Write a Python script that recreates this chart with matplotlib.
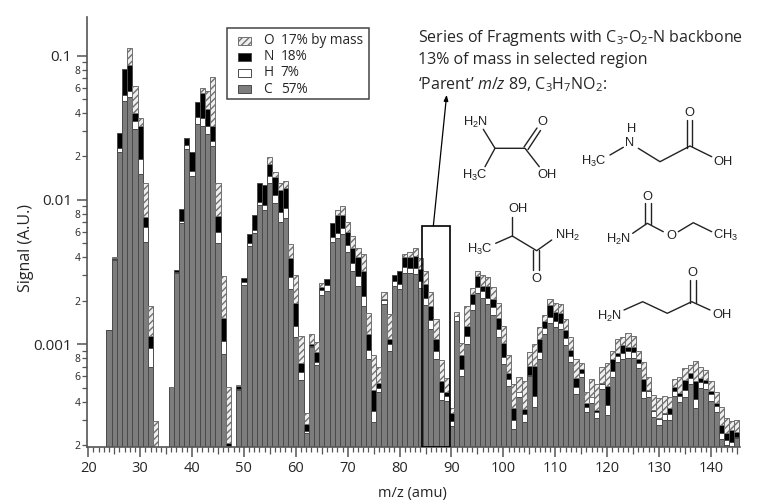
#!/usr/bin/env python3
"""Stacked elemental mass spectrum with candidate C3-O2-N fragment structures."""
import numpy as np
import matplotlib
matplotlib.use("Agg")
import matplotlib.pyplot as plt
from matplotlib.patches import Rectangle
from matplotlib.ticker import FixedLocator, FuncFormatter

plt.rcParams["font.family"] = ["Open Sans", "DejaVu Sans"]
plt.rcParams["mathtext.fontset"] = "custom"
plt.rcParams["mathtext.rm"] = "Open Sans"
plt.rcParams["mathtext.it"] = "Open Sans:italic"
plt.rcParams["mathtext.default"] = "regular"
plt.rcParams["hatch.linewidth"] = 1.0

# m/z of each bar (34, 35 and 48 have no bar)
mz = list(range(24, 34)) + list(range(36, 48)) + list(range(49, 146))

# signal of each element, in units of 0.001 A.U.
carbon = [1.25,3.84,21.6,48.5,51.7,31.2,15.1,5.14,0.699,0.194,0.506,3.12,6.96,22.6,14.7,33.5,32.6,28.7,23.7,5.01,
          0.857,0.194,0.482,2.58,4.8,5.88,9.19,8.53,13.1,9.49,7.07,7.47,2.42,1.12,0.563,0.242,0.953,0.715,2.2,2.35,
          5.14,5.45,5.81,4.36,3.22,2.55,1.84,0.795,0.289,0.467,1.9,0.894,2.55,2.41,3.13,3.1,3.07,2.44,1.86,1.28,
          0.787,0.411,0.403,0.272,1.46,0.6,1,1.73,2.28,2.1,1.89,1.6,1.13,0.727,0.514,0.259,0.429,0.289,0.606,0.369,
          0.787,1.18,1.4,1.32,1.28,0.989,0.75,0.452,0.591,0.341,0.39,0.307,0.488,0.324,0.596,0.758,0.787,0.807,0.807,0.682,
          0.427,0.433,0.315,0.275,0.299,0.299,0.438,0.4,0.433,0.531,0.36,0.496,0.49,0.407,0.341,0.22,0.201,0.198,0.225]
hydrogen = [0.00998,0.0308,1.31,4.62,4.93,3.91,4.17,1.33,0.248,0,0,0.025,0.191,1.49,1.15,3.95,4.26,3.9,2.09,0.961,
            0.203,0.0047,0.00776,0.113,0.235,0.318,0.543,0.708,1.45,1.34,1.14,1.38,0.496,0.227,0.0767,0.0102,0.0247,0.0423,0.182,0.212,
            0.427,0.425,0.553,0.515,0.421,0.426,0.329,0.118,0.0539,0.0284,0.125,0.106,0.212,0.2,0.282,0.258,0.325,0.315,0.23,0.197,
            0.116,0.0582,0.0334,0.0211,0.121,0.0741,0.142,0.165,0.205,0.237,0.21,0.197,0.141,0.0937,0.058,0.04,0.0401,0.0378,0.00681,0.0709,
            0.093,0.118,0.14,0.119,0.122,0.112,0.0794,0.0559,0.0389,0.0283,0.0392,0.0341,0.0405,0.056,0.0568,0.0721,0.0791,0.0911,0.0811,0.0637,
            0.0504,0.0413,0.0316,0.0276,0.03,0.03,0.0364,0.0381,0.0489,0.0505,0.0556,0.055,0.0467,0.0437,0.0325,0.0244,0.0167,0.0131,0.00362]
nitrogen = [0,0.0622,6.06,28.1,29.5,5.16,13,1.12,0.2,0,0,0.128,1.51,2.54,5.73,10.3,18.6,10.1,6.81,1.81,
            0.47,0.0081,0.024,0.177,0.75,1.68,3.32,3.47,3.26,3.53,3.51,3.21,1.07,0.578,0.106,0.0271,0.0269,0.127,0.105,0.285,
            1.33,1.99,1.51,1.15,0.985,1.07,1.06,0.26,0.139,0.0412,0.0326,0.0935,0.263,0.616,0.591,0.684,0.697,0.566,0.512,0.369,
            0.191,0.0874,0.0287,0.0431,0,0.173,0.192,0.338,0.505,0.207,0.444,0.267,0.258,0.205,0.0575,0.0648,0,0.0289,0.098,0.27,
            0.203,0.16,0.334,0.239,0.242,0.156,0.0834,0.0757,0.0447,0.0206,0.00413,0.00938,0.0085,0.134,0.138,0.0365,0.123,0.0547,0.0646,0.0416,
            0.0951,0.00763,0.00389,0.00486,0.00369,0.0348,0.0289,0.0193,0.0834,0.0483,0.144,0.0363,0.029,0.0243,0.0202,0.0319,0.0268,0.0434,0.019]
oxygen = [0,0.0952,0,0,27.4,21.7,4.39,5.59,0.695,0.0999,0.00243,0,0,0,0,0,4.03,14.5,38.3,5.4,
          1.45,0.301,0.00827,0,0,0,0,0,1.88,1.19,1.45,1.55,0.973,1.1,0.396,0.0535,0.168,0.158,0.164,0,
          0,0.654,1.22,0.976,1,0.625,0.968,0.467,0.357,0.156,0.232,0.528,0,0,0.217,0.294,0.579,0.619,0.631,0.45,
          0.397,0.218,0.116,0.0244,0.104,0.169,0.503,0.212,0.233,0.474,0.393,0.423,0.413,0.313,0.213,0.167,0.121,0.201,0.178,0.289,
          0.241,0.139,0.178,0.241,0.253,0.248,0.216,0.207,0.0713,0.0793,0.139,0.178,0.163,0.224,0.108,0.222,0.14,0.239,0.194,0.111,
          0.185,0.114,0.0948,0.115,0.106,0.0698,0.0686,0.133,0.116,0.0892,0.21,0.106,0.0979,0.0848,0.0756,0.0936,0.063,0.0408,0.0509]

legend_elements = ["O", "N", "H", "C"]
legend_shares = ["17% by mass", "18%", "7%", "57%"]
major_y = [1e-3, 1e-2, 1e-1]
major_y_labels = ["0.001", "0.01", "0.1"]
region_mz = (84.3, 89.65)   # selected region
region_top = 0.0066

GREY = "#7d7d7d"
EDGE = "#4a4a4a"
HATCH = "#707070"
TEXT = "#262626"
W, H = 757, 503

fig = plt.figure(figsize=(W / 100, H / 100), dpi=100)
ax = fig.add_axes([86.7 / W, 1 - 446.7 / H, (740 - 86.7) / W, (446.7 - 17) / H])
ax.set_yscale("log")
ax.set_xlim(19.7, 145.6)
ax.set_ylim(1.95e-4, 0.185)

# ---- Stacked bars ---------------------------------------------------------
x = np.array(mz)
base = np.zeros(len(mz))
for values, face, edge, hatch in [(carbon, GREY, EDGE, None), (hydrogen, "white", EDGE, None),
                                  (nitrogen, "black", EDGE, None), (oxygen, "#efefef", HATCH, "/////")]:
    part = np.array(values) * 1e-3
    keep = part > 0
    ax.bar(x[keep], part[keep], width=1.0, bottom=base[keep], color=face, hatch=hatch,
           edgecolor=edge, linewidth=0.7, zorder=2)
    base = base + part

# ---- Axes -----------------------------------------------------------------
for side in ("top", "right"):
    ax.spines[side].set_visible(False)
for side in ("left", "bottom"):
    ax.spines[side].set_linewidth(1.2)
    ax.spines[side].set_color("#555555")

ax.xaxis.set_major_locator(FixedLocator(np.arange(20, 141, 10)))
ax.xaxis.set_minor_locator(FixedLocator(np.arange(20, 146)))
ax.yaxis.set_major_locator(FixedLocator(major_y))
minor_y = [k * 10.0**e for e in (-4, -3, -2, -1) for k in range(2, 10) if k * 10.0**e < 0.185]
ax.yaxis.set_minor_locator(FixedLocator(minor_y))
ax.yaxis.set_major_formatter(FuncFormatter(lambda v, pos: major_y_labels[major_y.index(v)]))


def minor_label(v, pos):
    digit = int(round(v / 10 ** np.floor(np.log10(v) + 1e-9)))
    return str(digit) if digit in (2, 4, 6, 8) else ""


ax.yaxis.set_minor_formatter(FuncFormatter(minor_label))
ax.tick_params(axis="x", which="major", length=7, width=1.1, color="#555555", labelsize=10.5,
               labelcolor=TEXT, pad=3)
ax.tick_params(axis="x", which="minor", length=3.6, width=0.9, color="#555555")
ax.tick_params(axis="y", which="major", length=7.2, width=1.1, color="#555555", labelsize=11,
               labelcolor=TEXT, pad=3.5)
ax.tick_params(axis="y", which="minor", length=3.6, width=0.9, color="#555555", labelsize=7.5,
               labelcolor=TEXT, pad=0.7)
# every fifth amu gets a slightly longer tick
for loc, tick in zip(ax.xaxis.get_minorticklocs(), ax.xaxis.get_minor_ticks()):
    if loc % 5 == 0:
        tick.tick1line.set_markersize(5)

ax.set_xlabel("m/z (amu)", fontsize=10.5, color=TEXT)
ax.xaxis.set_label_coords((412 - 86.7) / (740 - 86.7), -(493 - 446.7) / (446.7 - 17), transform=ax.transAxes)
ax.xaxis.label.set_va("center")
ax.set_ylabel("Signal (A.U.)", fontsize=11.5, color=TEXT)
ax.yaxis.set_label_coords((26 - 86.7) / (740 - 86.7), (446.7 - 248) / (446.7 - 17), transform=ax.transAxes)
ax.yaxis.label.set_va("center")

# ---- Selected region and arrow ---------------------------------------------
ax.add_patch(Rectangle((region_mz[0], 1.95e-4), region_mz[1] - region_mz[0], region_top - 1.95e-4,
                       fill=False, edgecolor="black", linewidth=1.2, zorder=4))
ax.annotate("", xy=(89.07, 0.0535), xytext=(86.5, region_top), zorder=4,
            arrowprops=dict(arrowstyle="-|>,head_length=0.35,head_width=0.13", color="black", lw=0.9,
                            shrinkA=0, shrinkB=0))

# ---- Overlay in picture pixels: legend, heading text, chemical structures ---
ov = fig.add_axes([0, 0, 1, 1], facecolor="none")
ov.set_xlim(0, W)
ov.set_ylim(H, 0)
ov.axis("off")

ov.add_patch(Rectangle((227.3, 28.3), 141.7, 71, facecolor="white", edgecolor="#444444", linewidth=1.1))
swatches = [("#efefef", HATCH, "/////"), ("black", EDGE, None), ("white", EDGE, None), (GREY, EDGE, None)]
for ypos, element, share, (face, edge, hatch) in zip((40.7, 56.7, 72.7, 89.3), legend_elements, legend_shares, swatches):
    ov.add_patch(Rectangle((238.3, ypos - 4), 12.7, 8, facecolor=face, edgecolor=edge, hatch=hatch, linewidth=0.7))
    ov.text(263.3, ypos, element, fontsize=9.8, color=TEXT, ha="left", va="center")
    ov.text(280.7, ypos, share, fontsize=9.8, color=TEXT, ha="left", va="center")

for ypos, line in [(38.3, r"Series of Fragments with C$_3$-O$_2$-N backbone"),
                   (60, "13% of mass in selected region"),
                   (85, r"‘Parent’ $\mathit{m/z}$ 89, C$_3$H$_7$NO$_2$:")]:
    ov.text(417.7, ypos, line, fontsize=11.5, color=TEXT, ha="left", va="center")


def bond(*points):
    xs, ys = zip(*points)
    ov.plot(xs, ys, color="#222222", lw=1.0, solid_capstyle="round")


def atom(xpos, ypos, label):
    ov.text(xpos, ypos, label, fontsize=9.3, family="Liberation Sans", color="#222222", ha="center", va="center")


# alanine
atom(475, 122.7, "H$_2$N"); atom(542.7, 122.3, "O"); atom(547.3, 175, "OH"); atom(475, 175.7, "H$_3$C")
bond((483.3, 129.3), (495, 148.3), (525, 148.3), (539.3, 166.7))
bond((495, 148.3), (485, 166.7))
bond((524, 147), (537, 128)); bond((528, 149.5), (540.5, 130.5))
# sarcosine
atom(593.3, 161.7, "H$_3$C"); atom(630, 143.3, "N"); atom(631.7, 129, "H"); atom(689.3, 112.7, "O"); atom(722.7, 162.3, "OH")
bond((610, 155), (623.3, 147.3))
bond((638.3, 148.3), (660, 161.7), (690, 146), (711.7, 156.7))
bond((686.7, 147.5), (686.7, 120)); bond((692.3, 146), (692.3, 120))
# lactamide
atom(480, 249.3, "H$_3$C"); atom(517.7, 209.3, "OH"); atom(536, 279.3, "O"); atom(567.3, 235.7, "NH$_2$")
bond((495.7, 243.3), (512.3, 236), (536.7, 250.7), (551.7, 240))
bond((512.3, 236), (512.3, 217.3))
bond((533.3, 250), (533.3, 270)); bond((539.3, 250), (539.3, 270))
# ethyl carbamate
atom(618.3, 239, "H$_2$N"); atom(647.7, 196.7, "O"); atom(671, 235.7, "O"); atom(726, 235.7, "CH$_3$")
bond((632.7, 233.3), (647.3, 223.3), (663.3, 231.7))
bond((678.3, 231.7), (693.3, 222.7), (711.7, 231.7))
bond((645, 224), (645, 203.3)); bond((650.7, 224), (650.7, 203.3))
# beta-alanine
atom(609.3, 316.7, "H$_2$N"); atom(692.3, 273.3, "O"); atom(722.3, 315, "OH")
bond((624, 310), (642.7, 301.7), (667.3, 313.3), (691.7, 301.7), (710, 310))
bond((690, 302.5), (690, 280)); bond((695.7, 302.5), (695.7, 280))

fig.savefig("out.png", dpi=100)
